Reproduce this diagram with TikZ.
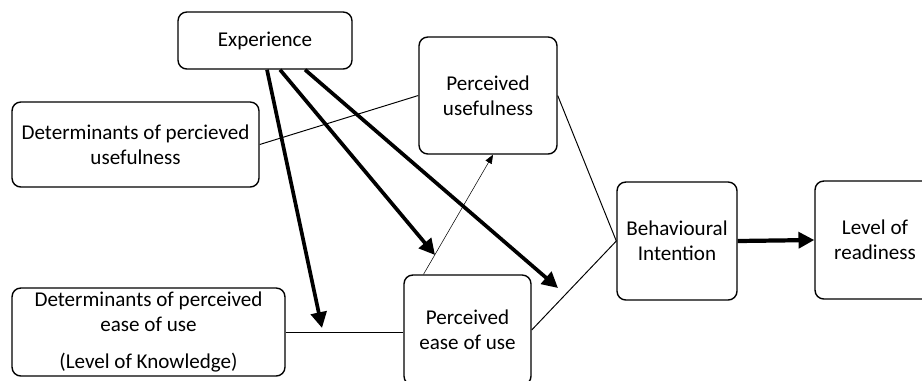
\documentclass[tikz,border=0pt]{standalone}
\usepackage{fontspec}
\setmainfont{Carlito}
\usetikzlibrary{calc,arrows.meta,positioning}
\tikzset{
    box/.style={
    rectangle,rounded corners=5pt,draw=black,line width=0.8pt,align=center,inner sep=2pt
    },
    thin/.style={
    draw=black,line width=0.55pt
    },
    bold/.style={
    draw=black,line width=2.1pt,-{Triangle[length=9pt,width=9pt]}
    },
}

\begin{document}
\begin{tikzpicture}[x=0.02cm, y=-0.02cm, font=\fontsize{12}{14}\selectfont]
   \useasboundingbox (0,0) rectangle (922,380);
   \node[box, minimum width=3.48cm, minimum height=1.14cm] (exp) at (265,40.5) {Experience};
   \node[box, minimum width=4.94cm, minimum height=1.70cm] (dpu) at (135.5,144.5) {Determinants of percieved\\usefulness};
   \node[box, minimum width=2.76cm, minimum height=2.34cm] (pu) at (488,95.5) {Perceived\\usefulness};
   \node[box, minimum width=5.46cm, minimum height=1.76cm] (dpeou) at (148.5,332) {Determinants of perceived\\ease of use\\[7pt](Level of Knowledge)};
   \node[box, minimum width=2.54cm, minimum height=2.20cm] (peou) at (467.5,330) {Perceived\\ease of use};
   \node[box, minimum width=2.40cm, minimum height=2.36cm] (bi) at (677,241) {Behavioural\\Intention};
   \node[box, minimum width=2.40cm, minimum height=2.36cm] (lr) at (875,240) {Level of\\readiness};

   \coordinate (t1) at (322,328);
   \coordinate (t2) at (435,255);
   \coordinate (t3) at (558,288);

   % plain links
   \path[thin]
    (dpu.east) edge (pu.west)
    (dpeou.east) edge (peou.west |- dpeou.east)
    (pu.east) edge (bi.west)
    (peou.east) edge (bi.west);
   \draw[line width=0.3pt, -{Triangle[length=5pt,width=4pt]}] ($(peou.north)+(-44,0)$) -- ($(pu.south)+(5,0)$);

   % experience
   \draw[bold] ($(exp.south)+(2,0)$) -- (t1);
   \draw[bold] ($(exp.south)+(15,0)$) -- (t2);
   \draw[bold] ($(exp.south)+(40,0)$) -- (t3);
   \draw[bold, line width=2.4pt] (bi.east) -- (lr.west);
\end{tikzpicture}
\end{document}
